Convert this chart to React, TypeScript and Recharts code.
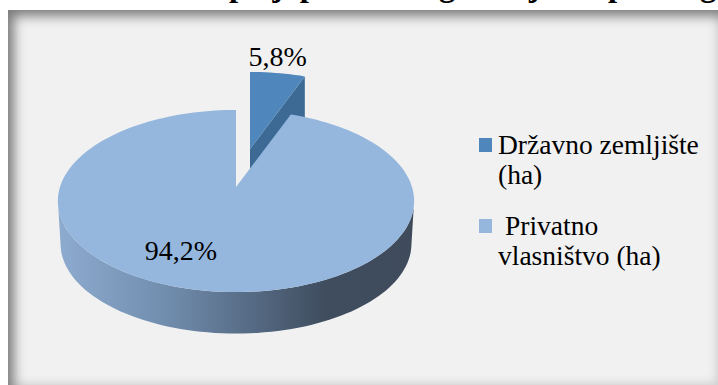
import React from 'react';
import { PieChart, Pie, Legend } from 'recharts';

const categories = ['Državno zemljište (ha)', 'Privatno vlasništvo (ha)'];
const shares = [5.8, 94.2];
const colors = ['#4f86bb', '#95b6dd'];
const titleParts = ['poljoprivrednog zemljišta', 'p', 'g'];

const tableData = categories.map((name, i) => ({ name, value: shares[i], fill: colors[i] }));

const RX = 176, RY = 88.9, PERSP = 0.154, DEPTH = 43, BOTTOM_SCALE = 0.985;
const EXPLODE_X = 14, EXPLODE_Y = -38;
const FONT = '"Liberation Serif", "Times New Roman", serif';

function project(cx: number, cy: number, thetaDeg: number, r = 1, scale = 1, dy = 0) {
  const t = (thetaDeg * Math.PI) / 180;
  const u = Math.sin(t) * r;
  const v = Math.cos(t) * r;
  const d = 1 + PERSP * v;
  return [cx + (RX * scale * u) / d, cy + dy - (RY * scale * v) / d];
}

function arcPoints(cx: number, cy: number, a0: number, a1: number, scale = 1, dy = 0) {
  const n = Math.max(2, Math.ceil(Math.abs(a1 - a0) / 2));
  const out: number[][] = [];
  for (let i = 0; i <= n; i++) out.push(project(cx, cy, a0 + ((a1 - a0) * i) / n, 1, scale, dy));
  return out;
}

const toPath = (pts: number[][]) => 'M' + pts.map((p) => `${p[0].toFixed(1)},${p[1].toFixed(1)}`).join('L') + 'Z';

function Slice(props: any) {
  const { cx, cy, startAngle, endAngle, fill } = props;
  const th0 = 90 - startAngle;
  const th1 = 90 - endAngle;
  const small = Math.abs(th1 - th0) < 180;
  if (small) {
    const ox = cx + EXPLODE_X;
    const oy = cy + EXPLODE_Y;
    const arc = arcPoints(ox, oy, th0, th1);
    const end = arc[arc.length - 1];
    return (
      <g>
        <path d={toPath([[ox, oy], end, [end[0], end[1] + DEPTH], [ox, oy + DEPTH]])} fill="#3c6a94" />
        <path d={toPath([[ox, oy], ...arc])} fill={fill} />
      </g>
    );
  }
  const kAngle = (Math.acos(-PERSP) * 180) / Math.PI;
  const front = arcPoints(cx, cy, 360 - kAngle, kAngle);
  const back = arcPoints(cx, cy, kAngle, 360 - kAngle, BOTTOM_SCALE, DEPTH);
  return (
    <g>
      <defs>
        <linearGradient id="sideGrad" gradientUnits="userSpaceOnUse" x1={cx - RX} x2={cx + RX} y1="0" y2="0">
          <stop offset="0" stopColor="#8dabcf" />
          <stop offset="0.3" stopColor="#718dae" />
          <stop offset="0.55" stopColor="#556a83" />
          <stop offset="0.75" stopColor="#3f4d5f" />
          <stop offset="1" stopColor="#3f4b5b" />
        </linearGradient>
      </defs>
      <path d={toPath([...front, ...back])} fill="url(#sideGrad)" />
      <path d={toPath([[cx, cy], ...arcPoints(cx, cy, th0, th1)])} fill={fill} />
    </g>
  );
}

function renderLabel(props: any) {
  const { cx, cy, midAngle, value } = props;
  const theta = 90 - midAngle;
  const small = value < 50;
  const [x, y] = small
    ? project(cx + EXPLODE_X, cy + EXPLODE_Y, theta, 1.26)
    : project(cx, cy, theta, 0.65);
  return (
    <text
      x={x + (small ? -6 : -32)}
      y={y}
      textAnchor="middle"
      dominantBaseline="central"
      fontFamily={FONT}
      fontSize={28}
      fill="#000"
    >
      {String(value).replace('.', ',')}%
    </text>
  );
}

function LegendContent(props: any) {
  const items = props.payload || [];
  return (
    <div style={{ fontFamily: FONT, fontSize: 27.5, lineHeight: '30px', color: '#000' }}>
      {items.map((it: any, i: number) => (
        <div key={it.value} style={{ position: 'relative', paddingLeft: 19, marginBottom: 21, textIndent: i === 1 ? 7 : 0 }}>
          <span style={{ position: 'absolute', left: 0, top: 8, width: 13, height: 14, background: it.color }} />
          {it.value}
        </div>
      ))}
    </div>
  );
}

export default function App() {
  return (
    <div style={{ position: 'absolute', left: 0, top: 0, width: 718, height: 385, overflow: 'hidden', background: '#fff' }}>
      <div
        style={{
          position: 'absolute', left: 8, top: 10, width: 710, height: 375, background: '#f1f1f1',
          boxShadow: 'inset 11px 11px 12px -5px #7c7c7c, inset -4px -4px 8px -2px #cfcfcf',
        }}
      />
      <div style={{ position: 'absolute', left: 0, top: 0 }}>
        <PieChart width={718} height={385} margin={{ top: 0, right: 0, bottom: 0, left: 0 }}>
          <text fontFamily={FONT} fontWeight="bold" fontSize={32.7} fill="#000">
            <tspan x={229} y={-4}>{titleParts[0]}</tspan>
            <tspan x={608} y={-4}>{titleParts[1]}</tspan>
            <tspan x={700} y={-4}>{titleParts[2]}</tspan>
          </text>
          <Pie
            data={tableData}
            dataKey="value"
            nameKey="name"
            cx={236}
            cy={187}
            outerRadius={100}
            startAngle={90}
            endAngle={-270}
            stroke="none"
            isAnimationActive={false}
            shape={Slice}
            label={renderLabel}
            labelLine={false}
          />
          <Legend
            content={<LegendContent />}
            wrapperStyle={{ position: 'absolute', left: 479, top: 130, width: 232, height: 'auto', bottom: 'auto' }}
          />
        </PieChart>
      </div>
    </div>
  );
}
